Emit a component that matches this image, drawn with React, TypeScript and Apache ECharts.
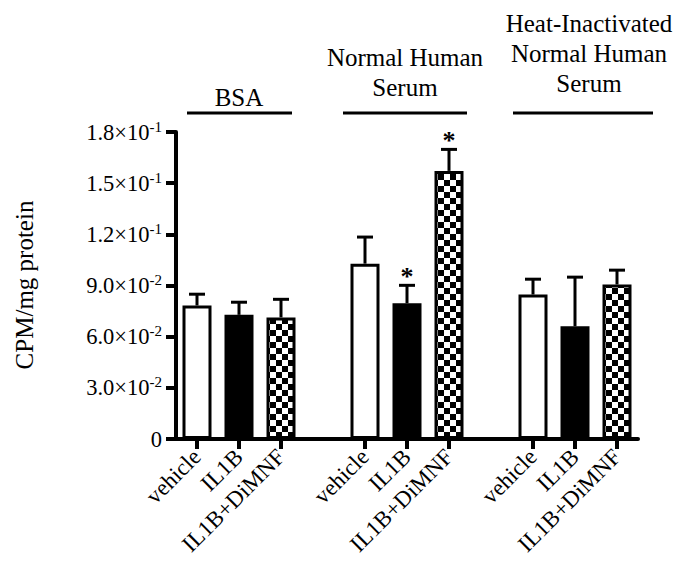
import React, { useEffect, useRef } from 'react';
import * as echarts from 'echarts';

// ---- data ----
const groupTitles = ['BSA', 'Normal Human\nSerum', 'Heat-Inactivated\nNormal Human\nSerum'];
const categories = [
  'vehicle', 'IL1B', 'IL1B+DiMNF', '',
  'vehicle', 'IL1B', 'IL1B+DiMNF', '',
  'vehicle', 'IL1B', 'IL1B+DiMNF',
];
const means: (number | null)[] = [
  0.0783, 0.0728, 0.0713, null,
  0.1028, 0.0796, 0.1572, null,
  0.0847, 0.0661, 0.0906,
];
const sems: (number | null)[] = [
  0.0066, 0.0074, 0.0106, null,
  0.0156, 0.0105, 0.0126, null,
  0.0090, 0.0288, 0.0084,
];
const significant = [
  false, false, false, false,
  false, true, true, false,
  false, false, false,
];
const yMin = 0;
const yMax = 0.18;
const yStep = 0.03;

const FONT = '"Liberation Serif", "Times New Roman", serif';

function makeChecker() {
  const c = document.createElement('canvas');
  c.width = 12;
  c.height = 12;
  const ctx = c.getContext('2d')!;
  ctx.fillStyle = '#fff';
  ctx.fillRect(0, 0, 12, 12);
  ctx.fillStyle = '#000';
  ctx.fillRect(0, 0, 6, 6);
  ctx.fillRect(6, 6, 6, 6);
  return c;
}

function fmtY(v: number) {
  if (Math.abs(v) < 1e-12) return '{m|0}';
  const e = Math.floor(Math.log10(v) + 1e-9);
  const m = v / Math.pow(10, e);
  return `{m|${m.toFixed(1)}×10}{e|${e}}`;
}

export default function App() {
  const ref = useRef<HTMLDivElement>(null);
  useEffect(() => {
    if (!ref.current) return;
    const chart = echarts.init(ref.current, undefined, { renderer: 'svg' });
    const checker = makeChecker();
    const pattern: any = { image: checker, repeat: 'repeat', imageWidth: 12, imageHeight: 12 };

    const barData = means.map((v, i) => {
      if (v == null) return '-';
      const kind = categories[i];
      const color = kind === 'vehicle' ? '#fff' : kind === 'IL1B' ? '#000' : pattern;
      return { value: v, itemStyle: { color } };
    });

    const errData: any[] = [];
    means.forEach((v, i) => {
      if (v != null) errData.push([i, v, sems[i], significant[i] ? 1 : 0]);
    });

    const titleLayout = [
      { x: 239, y: 112, lineX: [187, 292] },
      { x: 405, y: 102, lineX: [343, 467] },
      { x: 589, y: 98, lineX: [513, 653] },
    ];

    const graphic: any[] = [];
    groupTitles.forEach((t, i) => {
      const L = titleLayout[i];
      graphic.push({
        type: 'text',
        x: L.x,
        y: L.y,
        style: {
          text: t,
          font: `25px ${FONT}`,
          fill: '#000',
          textAlign: 'center',
          textVerticalAlign: 'bottom',
          lineHeight: 30,
        },
      });
      graphic.push({
        type: 'line',
        shape: { x1: L.lineX[0], y1: 113, x2: L.lineX[1], y2: 113 },
        style: { stroke: '#000', lineWidth: 3 },
      });
    });
    graphic.push({
      type: 'text',
      x: 24,
      y: 285,
      rotation: Math.PI / 2,
      style: {
        text: 'CPM/mg protein',
        font: `25px ${FONT}`,
        fill: '#000',
        textAlign: 'center',
        textVerticalAlign: 'middle',
      },
    });

    chart.setOption({
      animation: false,
      backgroundColor: '#fff',
      grid: { left: 176, right: 39, top: 132, bottom: 126, containLabel: false },
      xAxis: {
        type: 'category',
        data: categories,
        boundaryGap: true,
        axisLine: { show: true, onZero: false, lineStyle: { color: '#000', width: 4 } },
        axisTick: {
          show: true,
          alignWithLabel: true,
          length: 10,
          interval: (idx: number, val: string) => val !== '',
          lineStyle: { color: '#000', width: 4 },
        },
        axisLabel: {
          interval: 0,
          rotate: 45,
          margin: 14,
          color: '#000',
          fontFamily: FONT,
          fontSize: 23,
        },
        splitLine: { show: false },
      },
      yAxis: {
        type: 'value',
        min: yMin,
        max: yMax,
        interval: yStep,
        axisLine: { show: true, lineStyle: { color: '#000', width: 4 } },
        axisTick: { show: true, length: 10, lineStyle: { color: '#000', width: 4 } },
        splitLine: { show: false },
        axisLabel: {
          formatter: fmtY,
          margin: 14,
          color: '#000',
          rich: {
            m: { fontFamily: FONT, fontSize: 22.5, color: '#000', lineHeight: 26 },
            e: { fontFamily: FONT, fontSize: 15, color: '#000', verticalAlign: 'top', lineHeight: 26 },
          },
        },
      },
      series: [
        {
          type: 'bar',
          data: barData,
          barWidth: 29,
          itemStyle: { borderColor: '#000', borderWidth: 3 },
          z: 2,
        },
        {
          type: 'custom',
          data: errData,
          z: 3,
          renderItem: (params: any, api: any) => {
            const x = api.value(0);
            const m = api.value(1);
            const s = api.value(2);
            const sig = api.value(3);
            const p0 = api.coord([x, m]);
            const p1 = api.coord([x, m + s]);
            const children: any[] = [
              {
                type: 'line',
                shape: { x1: p0[0], y1: p0[1], x2: p1[0], y2: p1[1] },
                style: { stroke: '#000', lineWidth: 3 },
              },
              {
                type: 'line',
                shape: { x1: p1[0] - 8, y1: p1[1], x2: p1[0] + 8, y2: p1[1] },
                style: { stroke: '#000', lineWidth: 3 },
              },
            ];
            if (sig) {
              children.push({
                type: 'text',
                x: p1[0],
                y: p1[1] - 9,
                style: {
                  text: '*',
                  font: `bold 26px ${FONT}`,
                  fill: '#000',
                  textAlign: 'center',
                  textVerticalAlign: 'middle',
                },
              });
            }
            return { type: 'group', children };
          },
        },
      ],
      graphic,
    });
    return () => chart.dispose();
  }, []);
  return (
    <div
      ref={ref}
      style={{ position: 'fixed', left: 0, top: 0, width: 677, height: 565 }}
    />
  );
}
